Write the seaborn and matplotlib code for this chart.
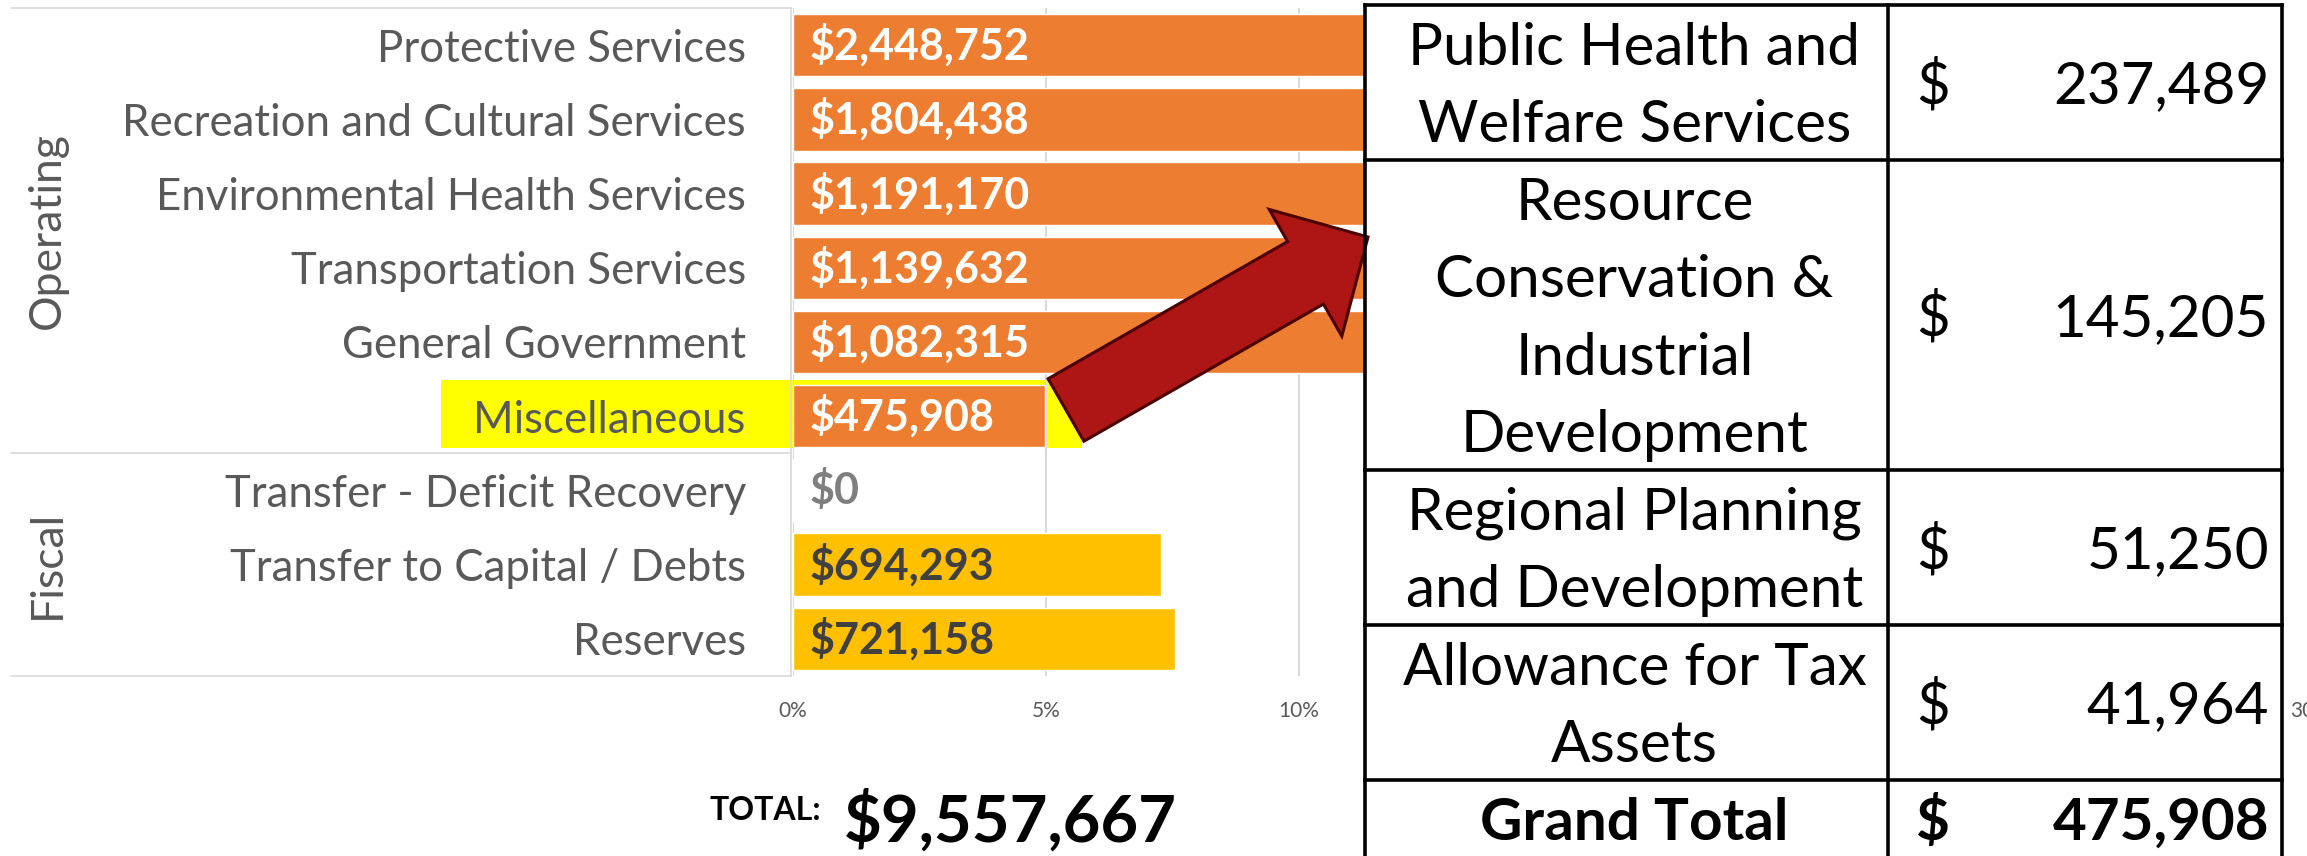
import pandas as pd
import matplotlib
matplotlib.use("Agg")
import matplotlib.pyplot as plt
import seaborn as sns
from matplotlib.patches import FancyArrow, Rectangle

# bar chart data
categories = ["Protective Services", "Recreation and Cultural Services",
              "Environmental Health Services", "Transportation Services",
              "General Government", "Miscellaneous", "Transfer - Deficit Recovery",
              "Transfer to Capital / Debts", "Reserves"]
groups = ["Operating"] * 6 + ["Fiscal"] * 3
amounts = [2448752, 1804438, 1191170, 1139632, 1082315, 475908, 0, 694293, 721158]
total_amount = 9557667
x_ticks = [0, 5, 10, 15, 20, 25, 30]

# breakdown table of "Miscellaneous"
misc_labels = ["Public Health and\nWelfare Services",
               "Resource\nConservation &\nIndustrial\nDevelopment",
               "Regional Planning\nand Development",
               "Allowance for Tax\nAssets"]
misc_amounts = [237489, 145205, 51250, 41964]
misc_total_label = "Grand Total"
misc_total = 475908

df = pd.DataFrame({"category": categories, "group": groups, "amount": amounts})
df["pct"] = df["amount"] / total_amount * 100

sns.set_style("white")
plt.rcParams["font.family"] = ["Lato", "DejaVu Sans"]

W, H = 2307, 856
fig = plt.figure(figsize=(W / 100, H / 100), dpi=100)

def rect(x0, y0, x1, y1):
    # pixel box (y down) -> figure fraction
    return [x0 / W, 1 - y1 / H, (x1 - x0) / W, (y1 - y0) / H]

grey_txt = "#595959"
line_c = "#d9d9d9"

# background layer: highlight + category frame
bg = fig.add_axes([0, 0, 1, 1], label="bg")
bg.set_xlim(0, W)
bg.set_ylim(H, 0)
bg.axis("off")
bg.set_zorder(0)

ax_left, ax_top, ax_bottom, ax_right = 793, 8, 676, 2311
row_h = (ax_bottom - ax_top) / len(categories)
misc_row = categories.index("Miscellaneous")
bg.add_patch(Rectangle((441, ax_top + misc_row * row_h + 1), 1082 - 441, row_h - 6,
                       fc="#FFFF00", ec="none"))
for yy in [ax_top, ax_top + 6 * row_h, ax_bottom]:
    bg.plot([11, ax_left - 2], [yy, yy], color=line_c, lw=1.2)
bg.plot([ax_left - 2, ax_left - 2], [ax_top, ax_bottom], color=line_c, lw=1.2)

for name in ["Operating", "Fiscal"]:
    idx = [i for i, g in enumerate(groups) if g == name]
    yc = ax_top + (idx[0] + idx[-1] + 1) / 2 * row_h
    bg.text(47, yc, name, rotation=90, ha="center", va="center",
            fontsize=32, color=grey_txt)

# bar chart
ax = fig.add_axes(rect(ax_left, ax_top, ax_right, ax_bottom), label="bars")
ax.set_zorder(1)
ax.patch.set_alpha(0)
sns.barplot(data=df, x="pct", y="category", hue="group", dodge=False,
            palette={"Operating": "#ED7D31", "Fiscal": "#FFC000"}, saturation=1,
            width=0.84, errorbar=None, legend=False, ax=ax)
ax.set_xlim(0, 30)
ax.set_xticks(x_ticks, [f"{t}%" for t in x_ticks])
ax.tick_params(axis="x", length=0, pad=18, labelsize=15, labelcolor=grey_txt)
ax.tick_params(axis="y", length=0, pad=34, labelsize=31.5, labelcolor=grey_txt)
ax.set_xlabel("")
ax.set_ylabel("")
ax.grid(axis="x", color=line_c, lw=1.5)
ax.set_axisbelow(True)
for s in ax.spines.values():
    s.set_visible(False)

for i, row in df.iterrows():
    if row["amount"] == 0:
        c = "#7F7F7F"
    elif row["group"] == "Operating":
        c = "white"
    else:
        c = "#404040"
    ax.text(0.32, i, f"${row['amount']:,.0f}", va="center", ha="left",
            fontsize=31, fontweight="bold", color=c)

# overlay: total, table, arrow
top = fig.add_axes([0, 0, 1, 1], label="top")
top.set_xlim(0, W)
top.set_ylim(H, 0)
top.axis("off")
top.set_zorder(2)
top.patch.set_alpha(0)

top.text(710, 820, "TOTAL:", fontsize=23, fontweight="bold", color="black",
         ha="left", va="baseline")
top.text(844, 842, f"${total_amount:,.0f}", fontsize=47, fontweight="bold",
         color="black", ha="left", va="baseline")

t_left, t_mid, t_right, t_top = 1365, 1888, 2282, 5
pitch = 77.5
fs = 42
cap = 0.36 * fs * 100 / 72
top.add_patch(Rectangle((t_left, t_top), t_right - t_left, H + 20, fc="white", ec="none"))

rows = [(lab, val, "normal") for lab, val in zip(misc_labels, misc_amounts)]
rows.append((misc_total_label, misc_total, "bold"))
y0 = t_top
bounds = [y0]
for lab, val, wt in rows:
    lines = lab.split("\n")
    h = pitch * len(lines)
    yc = y0 + h / 2
    for k, ln in enumerate(lines):
        ly = yc + (k - (len(lines) - 1) / 2) * pitch
        top.text((t_left + t_mid) / 2 + 8, ly + cap, ln, ha="center", va="baseline",
                 fontsize=fs, fontweight=wt, color="black")
    top.text(1916, yc + cap, "$", ha="left", va="baseline", fontsize=fs,
             fontweight=wt, color="black")
    top.text(2269, yc + cap, f"{val:,.0f}", ha="right", va="baseline", fontsize=fs,
             fontweight=wt, color="black")
    y0 += h
    bounds.append(y0)

lw_t = 2.6
for yy in bounds[:-1]:
    top.plot([t_left, t_right], [yy, yy], color="black", lw=lw_t, solid_capstyle="projecting")
for xx in [t_left, t_mid, t_right]:
    top.plot([xx, xx], [t_top, H + 10], color="black", lw=lw_t, solid_capstyle="projecting")

top.add_patch(FancyArrow(1066, 410, 302, -173, width=72, head_width=146, head_length=72,
                         length_includes_head=True, fc="#AE1515", ec="#4D0000", lw=2.2))

fig.savefig("out.png", dpi=100, facecolor="white")
